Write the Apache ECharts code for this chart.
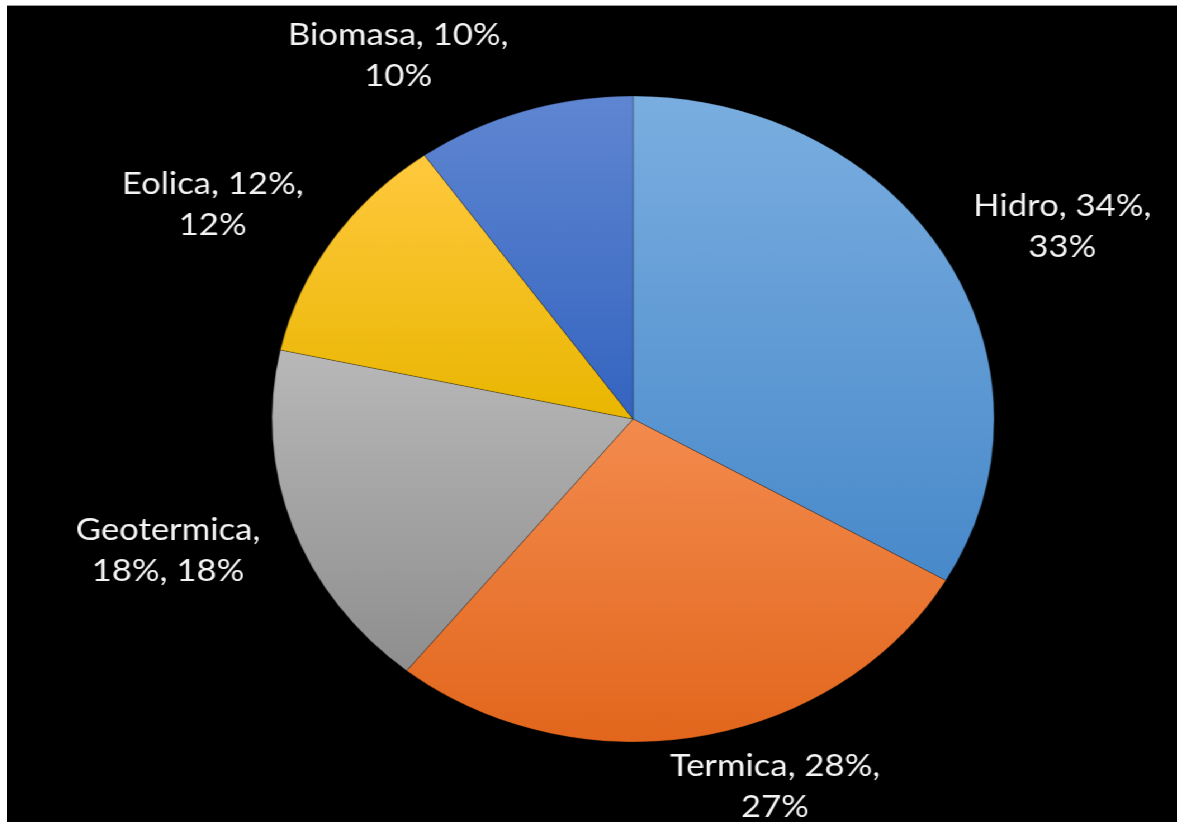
<!DOCTYPE html>
<html>
<head>
<meta charset="utf-8">
<script src="https://cdn.jsdelivr.net/npm/echarts@6/dist/echarts.min.js"></script>
<style>
  html, body { margin: 0; padding: 0; background: #fff; }
  #main {
    position: absolute;
    left: 7px;
    top: 5px;
    width: 1047px;
    height: 817px;
    background: #000;
    border-top: 1px solid #9a9a9a;
    /* the source picture is stretched sideways, pie and text alike */
    transform: scaleX(1.118);
    transform-origin: 0 0;
  }
</style>
</head>
<body>
<div id="main"></div>
<script>
const categories = ['Hidro', 'Termica', 'Geotermica', 'Eolica', 'Biomasa']
const values = [34, 28, 18, 12, 10]

// colores de cada rebanada (arriba -> abajo)
const topColors = ['#7AAEE0', '#F38B4E', '#B8B8B8', '#FFC93E', '#5F86D1']
const bottomColors = ['#4889CA', '#E2661C', '#8E8E8E', '#E9B600', '#3464C0']

// posición de las etiquetas (coordenadas del contenedor sin estirar)
const labelAnchors = [[944, 220], [687, 780], [144, 544], [184, 198], [350, 49]]

const myChart = echarts.init(document.getElementById('main'))

myChart.setOption({
  backgroundColor: '#000',
  animation: false,
  series: [
    {
      type: 'pie',
      center: [560, 413],
      radius: 323,
      startAngle: 90,
      clockwise: true,
      percentPrecision: 0,
      avoidLabelOverlap: false,
      silent: true,
      data: categories.map((name, i) => ({
        name: name,
        value: values[i],
        itemStyle: {
          color: new echarts.graphic.LinearGradient(0, 0, 0, 1, [
            { offset: 0, color: topColors[i] },
            { offset: 1, color: bottomColors[i] }
          ])
        }
      })),
      itemStyle: {
        borderColor: 'rgba(0,0,0,0.25)',
        borderWidth: 1
      },
      label: {
        show: true,
        position: 'outside',
        color: '#F4F4F4',
        fontFamily: 'Lato',
        fontSize: 31,
        lineHeight: 41,
        align: 'center',
        formatter: (p) => {
          // nombres largos se cortan tras el nombre
          if (p.name.length > 8) return p.name + ',\n' + p.value + '%, ' + p.percent + '%'
          return p.name + ', ' + p.value + '%,\n' + p.percent + '%'
        }
      },
      labelLine: { show: false },
      labelLayout: (params) => {
        const pos = labelAnchors[params.dataIndex]
        return {
          x: pos[0],
          y: pos[1],
          align: 'center',
          verticalAlign: 'middle'
        }
      }
    }
  ]
})
</script>
</body>
</html>
